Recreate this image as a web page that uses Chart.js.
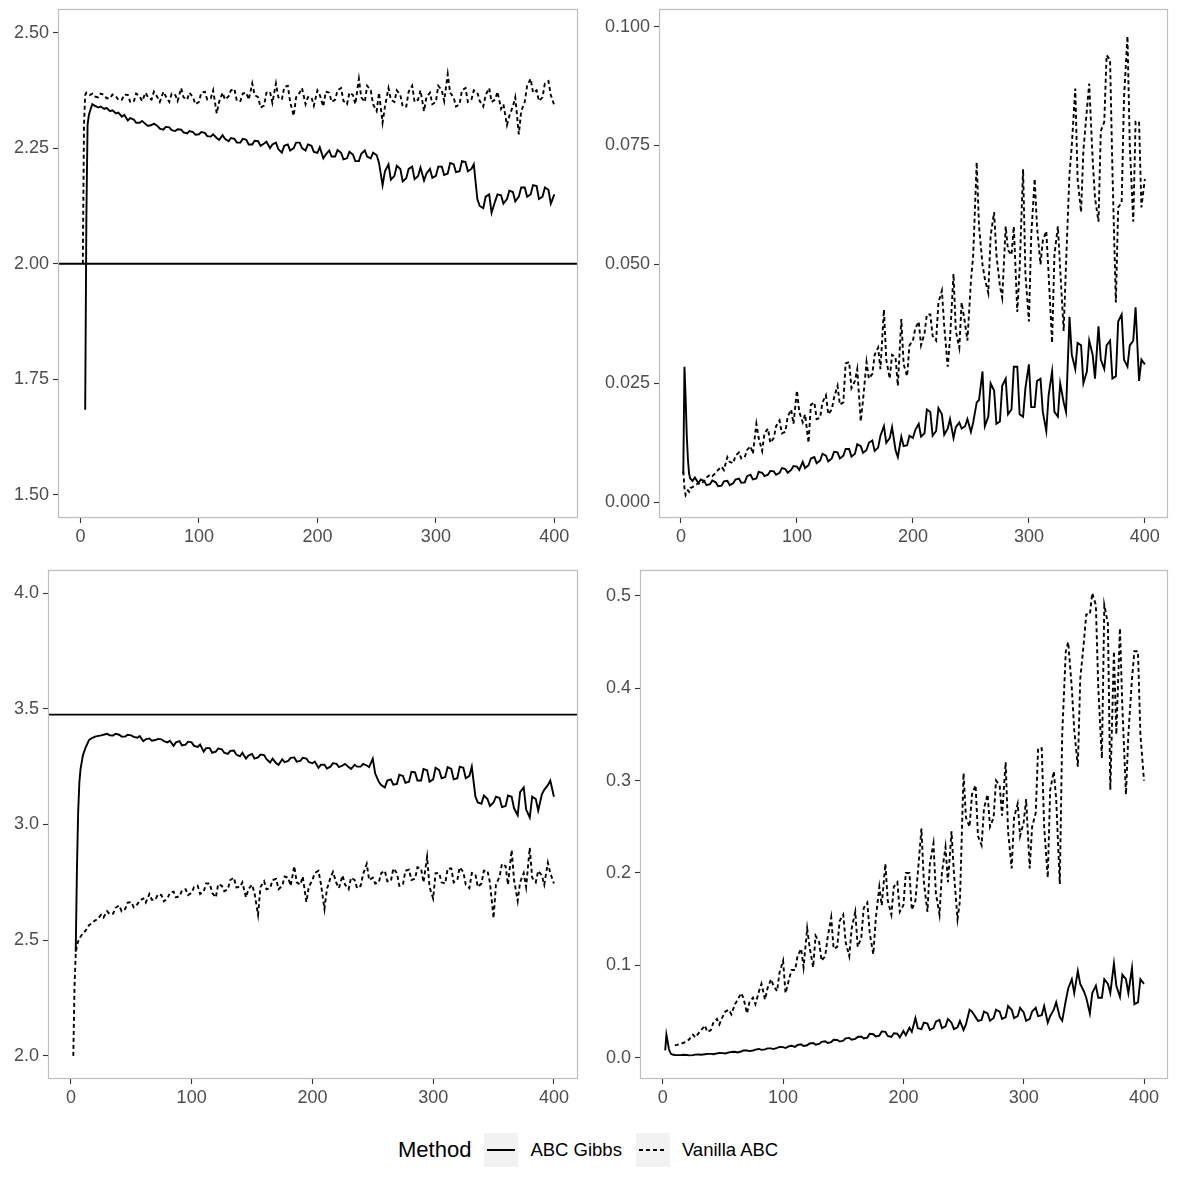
<!DOCTYPE html>
<html lang="en">
<head>
<meta charset="UTF-8">
<title>ABC Gibbs vs Vanilla ABC</title>
<script src="https://cdn.jsdelivr.net/npm/chart.js@4.4.1/dist/chart.umd.min.js"></script>
<style>
  html, body { margin: 0; padding: 0; background: #fff; }
  body { width: 1180px; height: 1180px; position: relative; overflow: hidden;
         font-family: "Liberation Sans", Arial, sans-serif; }
  .panel { position: absolute; width: 590px; height: 560px; }
  #legend { position: absolute; left: 398px; top: 1133px; height: 34px;
            display: flex; align-items: center; color: #000; }
  #legend .ltitle { font-size: 22px; margin-right: 13px; }
  #legend .key { width: 34px; height: 34px; background: #f2f2f2; display: flex;
                 align-items: center; justify-content: center; }
  #legend .key span { display: block; width: 28px; height: 2px; }
  #legend .solid { background: #000; }
  #legend .dash { background: repeating-linear-gradient(to right, #000 0 4px, transparent 4px 7px); }
  #legend .lab { font-size: 18.5px; margin: 0 14px 0 12px; }
</style>
</head>
<body>
<div class="panel" style="left:0;top:0"><canvas id="c1" width="590" height="560"></canvas></div>
<div class="panel" style="left:590px;top:0"><canvas id="c2" width="590" height="560"></canvas></div>
<div class="panel" style="left:0;top:560px"><canvas id="c3" width="590" height="560"></canvas></div>
<div class="panel" style="left:590px;top:560px"><canvas id="c4" width="590" height="560"></canvas></div>
<div id="legend">
  <span class="ltitle">Method</span>
  <span class="key"><span class="solid"></span></span><span class="lab">ABC Gibbs</span>
  <span class="key"><span class="dash"></span></span><span class="lab">Vanilla ABC</span>
</div>
<script>
// iteration index (x)
var iters = [2, 3, 4, 5, 6, 7, 8,
    10, 12, 15, 17, 20, 22, 25, 27, 30, 32,
    35, 37, 40, 42, 45, 47, 50, 52, 55, 57,
    60, 62, 65, 67, 70, 72, 75, 77, 80, 82,
    85, 87, 90, 92, 95, 97, 100, 102, 105, 107,
    110, 112, 115, 117, 120, 122, 125, 127, 130, 132,
    135, 137, 140, 142, 145, 147, 150, 152, 155, 157,
    160, 162, 165, 167, 170, 172, 175, 177, 180, 182,
    185, 187, 190, 192, 195, 197, 200, 202, 205, 207,
    210, 212, 215, 217, 220, 222, 225, 227, 230, 232,
    235, 237, 240, 242, 245, 247, 250, 252, 255, 257,
    260, 262, 265, 267, 270, 272, 275, 277, 280, 282,
    285, 287, 290, 292, 295, 297, 300, 302, 305, 307,
    310, 312, 315, 317, 320, 322, 325, 327, 330, 332,
    335, 337, 340, 342, 345, 347, 350, 352, 355, 357,
    360, 362, 365, 367, 370, 372, 375, 377, 380, 382,
    385, 387, 390, 392, 395, 397, 400];

// top left: estimate of first parameter
var gibbsMu1 = [null, null, 1.684, 2.10, 2.30, 2.32, 2.33,
    2.345, 2.342, 2.338, 2.34, 2.335, 2.337, 2.33, 2.332, 2.325, 2.327,
    2.318, 2.322, 2.31, 2.315, 2.312, 2.305, 2.305, 2.309, 2.302, 2.298,
    2.30, 2.303, 2.298, 2.292, 2.29, 2.296, 2.295, 2.289, 2.287, 2.291,
    2.29, 2.284, 2.282, 2.287, 2.285, 2.279, 2.28, 2.285, 2.283, 2.276,
    2.275, 2.28, 2.272, 2.268, 2.278, 2.27, 2.265, 2.272, 2.27, 2.262,
    2.262, 2.27, 2.268, 2.258, 2.258, 2.266, 2.265, 2.255, 2.26, 2.264,
    2.25, 2.258, 2.262, 2.248, 2.24, 2.255, 2.258, 2.245, 2.25, 2.262,
    2.262, 2.25, 2.245, 2.258, 2.255, 2.242, 2.24, 2.252, 2.228, 2.236,
    2.245, 2.232, 2.232, 2.246, 2.24, 2.226, 2.228, 2.242, 2.236, 2.222,
    2.222, 2.238, 2.245, 2.232, 2.228, 2.24, 2.235, 2.218, 2.17, 2.2,
    2.215, 2.182, 2.19, 2.212, 2.205, 2.178, 2.185, 2.205, 2.21, 2.183,
    2.19, 2.208, 2.18, 2.195, 2.205, 2.186, 2.19, 2.21, 2.21, 2.192,
    2.195, 2.218, 2.215, 2.198, 2.2, 2.222, 2.22, 2.2, 2.205, 2.215,
    2.14, 2.125, 2.12, 2.145, 2.15, 2.11, 2.135, 2.15, 2.148, 2.13,
    2.14, 2.158, 2.155, 2.135, 2.145, 2.165, 2.165, 2.145, 2.15, 2.17,
    2.168, 2.14, 2.145, 2.165, 2.16, 2.13, 2.15];
var vanillaMu1 = [2.00, 2.30, 2.365, 2.37, 2.368, 2.366, 2.365,
    2.368, 2.362, 2.36, 2.368, 2.365, 2.358, 2.358, 2.366, 2.362, 2.354,
    2.355, 2.366, 2.365, 2.35, 2.35, 2.368, 2.362, 2.352, 2.37, 2.36,
    2.355, 2.372, 2.36, 2.35, 2.372, 2.362, 2.35, 2.368, 2.365, 2.352,
    2.38, 2.36, 2.355, 2.37, 2.36, 2.345, 2.35, 2.37, 2.372, 2.355,
    2.358, 2.375, 2.325, 2.35, 2.37, 2.355, 2.362, 2.375, 2.378, 2.352,
    2.352, 2.368, 2.37, 2.355, 2.39, 2.365, 2.36, 2.338, 2.342, 2.37,
    2.372, 2.348, 2.39, 2.36, 2.355, 2.382, 2.385, 2.35, 2.32, 2.36,
    2.37, 2.38, 2.345, 2.36, 2.36, 2.342, 2.375, 2.365, 2.34, 2.372,
    2.37, 2.35, 2.355, 2.375, 2.38, 2.352, 2.345, 2.37, 2.365, 2.345,
    2.40, 2.36, 2.35, 2.385, 2.375, 2.345, 2.33, 2.37, 2.305, 2.34,
    2.38, 2.355, 2.35, 2.375, 2.365, 2.34, 2.34, 2.372, 2.385, 2.35,
    2.355, 2.375, 2.33, 2.36, 2.37, 2.345, 2.35, 2.385, 2.375, 2.352,
    2.41, 2.37, 2.36, 2.34, 2.345, 2.375, 2.38, 2.35, 2.355, 2.375,
    2.37, 2.352, 2.34, 2.365, 2.38, 2.35, 2.355, 2.372, 2.335, 2.345,
    2.30, 2.32, 2.34, 2.36, 2.28, 2.33, 2.35, 2.385, 2.40, 2.37,
    2.375, 2.352, 2.36, 2.39, 2.395, 2.365, 2.342];
var trueMu1 = 2.0;

// top right: error of first parameter
var gibbsErr1 = [0.006, 0.0285, 0.022, 0.014, 0.009, 0.006, 0.005,
    0.0045, 0.0052, 0.004, 0.0048, 0.0045, 0.0036, 0.0038, 0.0046, 0.0042, 0.0034,
    0.0035, 0.0044, 0.0045, 0.0036, 0.004, 0.0048, 0.005, 0.0041, 0.0042, 0.0055,
    0.0058, 0.0048, 0.005, 0.0064, 0.0062, 0.0055, 0.0058, 0.0066, 0.0065, 0.0058,
    0.0062, 0.0072, 0.007, 0.0062, 0.0068, 0.0076, 0.0075, 0.0068, 0.0085, 0.0072,
    0.0078, 0.0092, 0.0095, 0.0082, 0.0088, 0.0102, 0.0098, 0.0086, 0.0092, 0.0106,
    0.0105, 0.0092, 0.0098, 0.0112, 0.0112, 0.0096, 0.0102, 0.0122, 0.0118, 0.0104,
    0.011, 0.0125, 0.013, 0.0108, 0.0115, 0.014, 0.016, 0.0125, 0.0135, 0.0158,
    0.011, 0.0095, 0.0138, 0.0118, 0.012, 0.014, 0.0135, 0.0152, 0.0165, 0.0138,
    0.0145, 0.0195, 0.019, 0.014, 0.015, 0.0198, 0.0185, 0.0142, 0.0155, 0.0175,
    0.0135, 0.0158, 0.0168, 0.0155, 0.016, 0.0175, 0.0148, 0.0168, 0.021, 0.0215,
    0.0275, 0.016, 0.018, 0.025, 0.0235, 0.0165, 0.017, 0.0245, 0.026, 0.0185,
    0.0195, 0.0285, 0.0285, 0.0185, 0.018, 0.024, 0.029, 0.02, 0.02, 0.0255,
    0.026, 0.019, 0.015, 0.0225, 0.0275, 0.019, 0.018, 0.025, 0.021, 0.019,
    0.039, 0.031, 0.028, 0.0335, 0.033, 0.025, 0.0275, 0.034, 0.031, 0.026,
    0.037, 0.03, 0.028, 0.033, 0.034, 0.026, 0.0265, 0.038, 0.0395, 0.03,
    0.0285, 0.033, 0.034, 0.041, 0.0255, 0.03, 0.029];
var vanillaErr1 = [0.0065, 0.003, 0.0015, 0.002, 0.0025, 0.0022, 0.003,
    0.0032, 0.0036, 0.004, 0.0038, 0.0045, 0.0052, 0.0058, 0.0055, 0.0062, 0.0068,
    0.0075, 0.0068, 0.0095, 0.0085, 0.0082, 0.0098, 0.0105, 0.0092, 0.0095, 0.011,
    0.0118, 0.0102, 0.0165, 0.0135, 0.0108, 0.0145, 0.0155, 0.0125, 0.0135, 0.016,
    0.0172, 0.0145, 0.0148, 0.018, 0.0195, 0.0165, 0.0235, 0.019, 0.0168, 0.0185,
    0.0125, 0.0205, 0.021, 0.0175, 0.0178, 0.021, 0.0225, 0.0185, 0.0195, 0.022,
    0.0245, 0.0205, 0.021, 0.0292, 0.0295, 0.024, 0.0255, 0.028, 0.017, 0.0215,
    0.0295, 0.026, 0.027, 0.031, 0.0325, 0.028, 0.0405, 0.03, 0.026, 0.031,
    0.0305, 0.0245, 0.0385, 0.029, 0.0265, 0.033, 0.034, 0.0365, 0.038, 0.033,
    0.0355, 0.0395, 0.0395, 0.035, 0.034, 0.042, 0.0445, 0.037, 0.0285, 0.0345,
    0.048, 0.036, 0.0325, 0.042, 0.0375, 0.034, 0.0465, 0.052, 0.0715, 0.058,
    0.05, 0.047, 0.044, 0.056, 0.061, 0.052, 0.0455, 0.043, 0.058, 0.053,
    0.052, 0.058, 0.04, 0.049, 0.07, 0.048, 0.038, 0.056, 0.068, 0.058,
    0.05, 0.055, 0.057, 0.048, 0.0335, 0.052, 0.058, 0.049, 0.036, 0.05,
    0.069, 0.075, 0.087, 0.068, 0.061, 0.074, 0.0825, 0.088, 0.072, 0.064,
    0.059, 0.078, 0.08, 0.094, 0.093, 0.07, 0.042, 0.062, 0.063, 0.085,
    0.098, 0.075, 0.059, 0.08, 0.08, 0.062, 0.068];

// bottom left: estimate of second parameter
var gibbsMu2 = [null, null, 2.45, 2.80, 3.05, 3.18, 3.24,
    3.30, 3.33, 3.365, 3.372, 3.38, 3.382, 3.385, 3.388, 3.392, 3.386,
    3.385, 3.392, 3.388, 3.38, 3.38, 3.388, 3.385, 3.379, 3.375, 3.382,
    3.36, 3.368, 3.372, 3.362, 3.365, 3.37, 3.368, 3.36, 3.355, 3.362,
    3.34, 3.355, 3.36, 3.342, 3.345, 3.358, 3.355, 3.34, 3.335, 3.345,
    3.315, 3.33, 3.33, 3.31, 3.315, 3.328, 3.325, 3.31, 3.305, 3.318,
    3.32, 3.302, 3.295, 3.31, 3.285, 3.298, 3.305, 3.285, 3.29, 3.302,
    3.30, 3.282, 3.268, 3.285, 3.265, 3.258, 3.282, 3.27, 3.275, 3.288,
    3.29, 3.272, 3.275, 3.288, 3.285, 3.27, 3.265, 3.272, 3.245, 3.258,
    3.258, 3.242, 3.25, 3.265, 3.262, 3.248, 3.255, 3.262, 3.248, 3.24,
    3.258, 3.25, 3.25, 3.262, 3.255, 3.248, 3.285, 3.22, 3.185, 3.17,
    3.16, 3.19, 3.195, 3.172, 3.175, 3.215, 3.21, 3.18, 3.185, 3.228,
    3.225, 3.19, 3.19, 3.24, 3.235, 3.185, 3.195, 3.245, 3.235, 3.2,
    3.205, 3.248, 3.24, 3.195, 3.20, 3.25, 3.245, 3.2, 3.21, 3.25,
    3.12, 3.095, 3.09, 3.125, 3.11, 3.08, 3.095, 3.12, 3.115, 3.075,
    3.08, 3.125, 3.12, 3.07, 3.04, 3.14, 3.16, 3.065, 3.03, 3.12,
    3.11, 3.06, 3.13, 3.15, 3.17, 3.19, 3.12];
var vanillaMu2 = [2.0, 2.30, 2.44, 2.48, 2.495, 2.505, 2.515,
    2.53, 2.54, 2.565, 2.572, 2.585, 2.59, 2.61, 2.598, 2.625, 2.612,
    2.615, 2.64, 2.65, 2.625, 2.635, 2.662, 2.665, 2.642, 2.655, 2.672,
    2.68, 2.662, 2.70, 2.675, 2.675, 2.698, 2.695, 2.668, 2.68, 2.705,
    2.71, 2.685, 2.69, 2.715, 2.72, 2.695, 2.705, 2.73, 2.735, 2.7,
    2.71, 2.745, 2.745, 2.705, 2.685, 2.742, 2.735, 2.712, 2.72, 2.76,
    2.77, 2.728, 2.73, 2.75, 2.685, 2.72, 2.74, 2.705, 2.61, 2.73,
    2.755, 2.72, 2.725, 2.76, 2.765, 2.72, 2.735, 2.775, 2.77, 2.735,
    2.82, 2.75, 2.74, 2.775, 2.665, 2.73, 2.76, 2.79, 2.80, 2.745,
    2.635, 2.72, 2.77, 2.795, 2.745, 2.725, 2.78, 2.74, 2.72, 2.77,
    2.76, 2.725, 2.735, 2.785, 2.83, 2.76, 2.77, 2.745, 2.75, 2.79,
    2.80, 2.755, 2.755, 2.81, 2.79, 2.735, 2.74, 2.8, 2.805, 2.76,
    2.765, 2.815, 2.81, 2.75, 2.86, 2.73, 2.68, 2.79, 2.79, 2.75,
    2.745, 2.81, 2.81, 2.75, 2.76, 2.815, 2.795, 2.74, 2.725, 2.79,
    2.785, 2.73, 2.745, 2.8, 2.80, 2.75, 2.595, 2.74, 2.775, 2.83,
    2.82, 2.74, 2.89, 2.76, 2.67, 2.75, 2.79, 2.73, 2.90, 2.77,
    2.75, 2.8, 2.78, 2.74, 2.835, 2.79, 2.745];
var trueMu2 = 3.475;

// bottom right: error of second parameter
var gibbsErr2 = [0.008, 0.025, 0.018, 0.010, 0.006, 0.004, 0.0035,
    0.003, 0.0028, 0.0028, 0.0032, 0.003, 0.0026, 0.0028, 0.0034, 0.0035, 0.0032,
    0.0038, 0.0042, 0.0042, 0.0038, 0.0048, 0.0052, 0.005, 0.0046, 0.0058, 0.0062,
    0.0065, 0.0058, 0.0068, 0.0078, 0.008, 0.0072, 0.0078, 0.0088, 0.0095, 0.0085,
    0.009, 0.0102, 0.0102, 0.0094, 0.0108, 0.0118, 0.0115, 0.0105, 0.0125, 0.013,
    0.0118, 0.0138, 0.0145, 0.0128, 0.0135, 0.0155, 0.016, 0.0142, 0.015, 0.0172,
    0.0178, 0.016, 0.017, 0.0195, 0.0192, 0.0175, 0.0185, 0.021, 0.0215, 0.0195,
    0.0205, 0.0225, 0.023, 0.0208, 0.0218, 0.026, 0.0255, 0.023, 0.024, 0.0285,
    0.028, 0.0235, 0.0225, 0.0265, 0.026, 0.022, 0.029, 0.0245, 0.0325, 0.028,
    0.043, 0.032, 0.031, 0.038, 0.037, 0.03, 0.032, 0.039, 0.041, 0.032,
    0.034, 0.042, 0.038, 0.031, 0.033, 0.04, 0.03, 0.036, 0.052, 0.05,
    0.044, 0.04, 0.041, 0.05, 0.048, 0.04, 0.043, 0.052, 0.05, 0.042,
    0.044, 0.056, 0.052, 0.043, 0.045, 0.054, 0.049, 0.04, 0.042, 0.05,
    0.054, 0.045, 0.046, 0.056, 0.038, 0.045, 0.052, 0.06, 0.044, 0.04,
    0.062, 0.075, 0.085, 0.07, 0.094, 0.08, 0.072, 0.065, 0.048, 0.07,
    0.078, 0.065, 0.065, 0.085, 0.08, 0.07, 0.102, 0.078, 0.066, 0.09,
    0.085, 0.07, 0.097, 0.058, 0.06, 0.085, 0.08];
var vanillaErr2 = [null, null, null, null, null, null, null,
    0.0135, 0.014, 0.0155, 0.016, 0.018, 0.02, 0.025, 0.022, 0.027, 0.03,
    0.035, 0.028, 0.03, 0.038, 0.042, 0.036, 0.045, 0.05, 0.052, 0.047,
    0.058, 0.062, 0.07, 0.065, 0.048, 0.06, 0.065, 0.058, 0.072, 0.08,
    0.063, 0.075, 0.085, 0.078, 0.072, 0.092, 0.105, 0.07, 0.085, 0.095,
    0.095, 0.11, 0.118, 0.098, 0.14, 0.12, 0.098, 0.132, 0.125, 0.105,
    0.11, 0.13, 0.152, 0.118, 0.12, 0.148, 0.155, 0.125, 0.11, 0.14,
    0.158, 0.12, 0.13, 0.162, 0.168, 0.135, 0.112, 0.15, 0.185, 0.165,
    0.21, 0.17, 0.155, 0.185, 0.19, 0.158, 0.165, 0.2, 0.20, 0.16,
    0.17, 0.2, 0.248, 0.19, 0.158, 0.21, 0.232, 0.178, 0.155, 0.2,
    0.228, 0.19, 0.245, 0.2, 0.15, 0.17, 0.308, 0.26, 0.25, 0.285,
    0.295, 0.24, 0.23, 0.27, 0.285, 0.25, 0.26, 0.3, 0.295, 0.262,
    0.32, 0.245, 0.205, 0.26, 0.275, 0.24, 0.255, 0.28, 0.205, 0.25,
    0.265, 0.335, 0.335, 0.25, 0.195, 0.29, 0.31, 0.28, 0.188, 0.35,
    0.44, 0.45, 0.40, 0.355, 0.315, 0.41, 0.45, 0.48, 0.48, 0.503,
    0.49, 0.4, 0.324, 0.49, 0.47, 0.29, 0.44, 0.35, 0.465, 0.38,
    0.285, 0.35, 0.41, 0.44, 0.44, 0.35, 0.30];

// tick labels
var xTicks = [0, 100, 200, 300, 400];
var yTicks1 = [1.50, 1.75, 2.00, 2.25, 2.50];
var yTicks2 = [0.000, 0.025, 0.050, 0.075, 0.100];
var yTicks3 = [2.0, 2.5, 3.0, 3.5, 4.0];
var yTicks4 = [0.0, 0.1, 0.2, 0.3, 0.4, 0.5];

var X_MIN = -18.95, X_MAX = 419.95;
var FONT = '"Liberation Sans", Arial, sans-serif';

var panelBorder = {
    id: 'panelBorder',
    afterDraw: function (chart) {
        var a = chart.chartArea, ctx = chart.ctx;
        ctx.save();
        ctx.strokeStyle = '#bdbdbd';
        ctx.lineWidth = 1.2;
        ctx.strokeRect(a.left + 0.5, a.top + 0.5, a.width - 1, a.height - 1);
        ctx.restore();
    }
};

var toPoints = function (arr) {
    return iters.map(function (x, i) {
        return {x: x, y: arr[i]};
    });
};

var series = function (arr, dashed) {
    return {
        data: toPoints(arr),
        borderColor: '#000',
        borderWidth: 1.9,
        borderDash: dashed ? [4, 3] : [],
        pointRadius: 0,
        tension: 0,
        spanGaps: false
    };
};

var hline = function (v) {
    return {
        data: [{x: X_MIN, y: v}, {x: X_MAX, y: v}],
        borderColor: '#000',
        borderWidth: 1.9,
        pointRadius: 0
    };
};

var makePanel = function (id, p) {
    var datasets = [series(p.gibbs, false), series(p.vanilla, true)];
    if (p.truth !== undefined) datasets.push(hline(p.truth));
    var tickFont = {family: FONT, size: 18};
    var grid = {drawOnChartArea: false, drawTicks: true, tickLength: 5, tickColor: '#333', tickWidth: 1.1};
    return new Chart(document.getElementById(id), {
        type: 'line',
        data: {datasets: datasets},
        options: {
            responsive: false,
            animation: false,
            events: [],
            layout: {padding: {top: p.padTop, right: 12, left: 0, bottom: 0}},
            plugins: {legend: {display: false}, tooltip: {enabled: false}},
            scales: {
                x: {
                    type: 'linear', min: X_MIN, max: X_MAX,
                    grid: grid, border: {display: false},
                    ticks: {font: tickFont, color: '#4d4d4d', padding: 3, maxRotation: 0, autoSkip: false},
                    afterBuildTicks: function (s) {
                        s.ticks = xTicks.map(function (v) { return {value: v}; });
                    },
                    afterFit: function (s) {
                        s.height = p.xh; s.paddingLeft = 0; s.paddingRight = 0;
                    }
                },
                y: {
                    type: 'linear', min: p.yMin, max: p.yMax,
                    grid: grid, border: {display: false},
                    ticks: {
                        font: tickFont, color: '#4d4d4d', padding: 4, autoSkip: false,
                        callback: function (v) { return Number(v).toFixed(p.dec); }
                    },
                    afterBuildTicks: function (s) {
                        s.ticks = p.yTicks.map(function (v) { return {value: v}; });
                    },
                    afterFit: function (s) {
                        s.width = p.yw; s.paddingTop = 0; s.paddingBottom = 0;
                    }
                }
            }
        },
        plugins: [panelBorder]
    });
};

makePanel('c1', {gibbs: gibbsMu1, vanilla: vanillaMu1, truth: trueMu1, yTicks: yTicks1, dec: 2,
    yMin: 1.45, yMax: 2.551, yw: 58, padTop: 9, xh: 42});
makePanel('c2', {gibbs: gibbsErr1, vanilla: vanillaErr1, yTicks: yTicks2, dec: 3,
    yMin: -0.0033, yMax: 0.1037, yw: 69, padTop: 9, xh: 42});
makePanel('c3', {gibbs: gibbsMu2, vanilla: vanillaMu2, truth: trueMu2, yTicks: yTicks3, dec: 1,
    yMin: 1.9, yMax: 4.1, yw: 48, padTop: 10, xh: 41});
makePanel('c4', {gibbs: gibbsErr2, vanilla: vanillaErr2, yTicks: yTicks4, dec: 1,
    yMin: -0.023, yMax: 0.528, yw: 50, padTop: 10, xh: 41});
</script>
</body>
</html>
